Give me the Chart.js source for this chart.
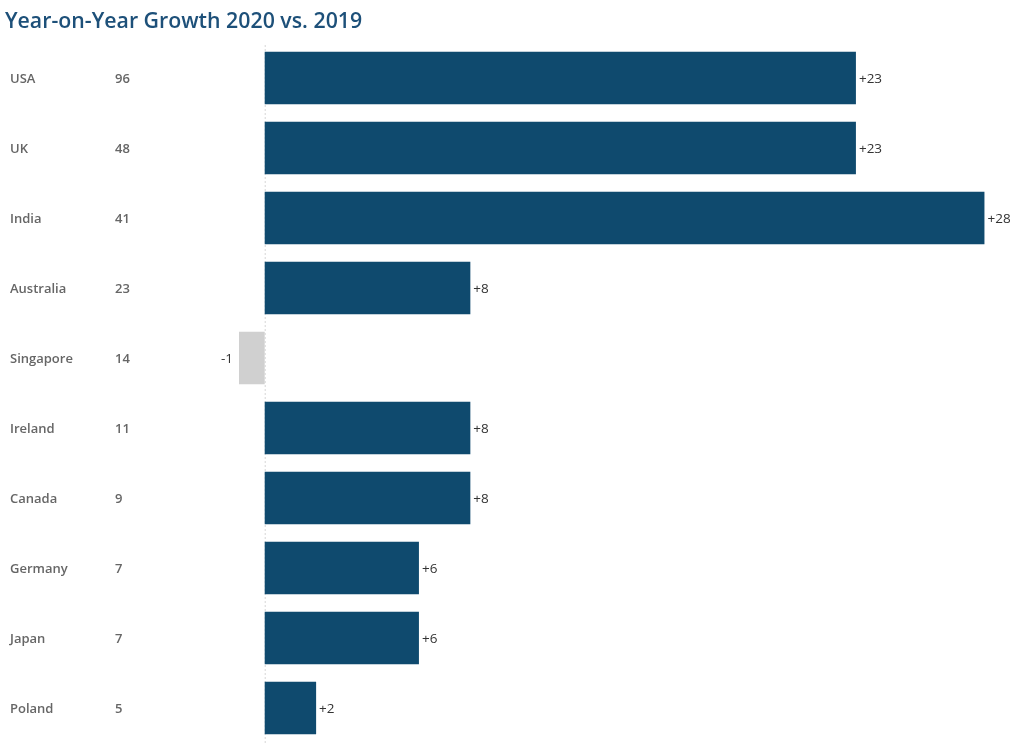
<!DOCTYPE html>
<html>
<head>
<meta charset="utf-8">
<script src="https://cdn.jsdelivr.net/npm/chart.js@4.4.0/dist/chart.umd.min.js"></script>
<style>
    body { margin: 0; background: #fff; }
    #wrap { position: relative; width: 1023px; height: 744px; }
    #title {
        position: absolute; left: 5px; top: 5px;
        font-family: 'Open Sans', sans-serif; font-weight: 600; font-size: 21.3px;
        color: #1d5079; margin: 0;
    }
    #chart { position: absolute; left: 0; top: 0; }
</style>
</head>
<body>
<div id="wrap">
    <canvas id="chart" width="1023" height="744"></canvas>
    <h1 id="title">Year-on-Year Growth 2020 vs. 2019</h1>
</div>
<script>
const countries = ['USA', 'UK', 'India', 'Australia', 'Singapore', 'Ireland', 'Canada', 'Germany', 'Japan', 'Poland'];
const counts2020 = [96, 48, 41, 23, 14, 11, 9, 7, 7, 5];
const growth = [23, 23, 28, 8, -1, 8, 8, 6, 6, 2];

const barBlue = '#0f4a6e';
const barGrey = '#d0d0d0';

const sidePlugin = {
    id: 'side',
    beforeDatasetsDraw(chart) {
        const ctx = chart.ctx;
        const x0 = chart.scales.x.getPixelForValue(0);
        ctx.save();
        ctx.strokeStyle = '#d6d6d6';
        ctx.lineWidth = 1;
        ctx.setLineDash([2, 2]);
        ctx.beginPath();
        ctx.moveTo(x0 + 0.5, 45);
        ctx.lineTo(x0 + 0.5, 744);
        ctx.stroke();
        ctx.restore();
    },
    afterDatasetsDraw(chart) {
        const ctx = chart.ctx;
        const y = chart.scales.y;
        ctx.save();
        ctx.textBaseline = 'middle';
        ctx.font = '600 13px "Open Sans", sans-serif';
        ctx.fillStyle = '#666';
        countries.forEach((c, i) => {
            const py = y.getPixelForValue(i) + 1;
            ctx.textAlign = 'left';
            ctx.fillText(c, 10, py);
            ctx.fillText(String(counts2020[i]), 115, py);
        });
        ctx.font = '13.5px "Open Sans", sans-serif';
        ctx.fillStyle = '#333';
        chart.getDatasetMeta(0).data.forEach((bar, i) => {
            const v = growth[i];
            if (v >= 0) {
                ctx.textAlign = 'left';
                ctx.fillText('+' + v, bar.x + 3, bar.y + 1);
            } else {
                ctx.textAlign = 'right';
                ctx.fillText(String(v), bar.x - 6, bar.y + 1);
            }
        });
        ctx.restore();
    }
};

new Chart(document.getElementById('chart'), {
    type: 'bar',
    data: {
        labels: countries,
        datasets: [{
            data: growth,
            backgroundColor: growth.map(v => v < 0 ? barGrey : barBlue),
            categoryPercentage: 1,
            barPercentage: 0.75
        }]
    },
    options: {
        indexAxis: 'y',
        responsive: false,
        animation: false,
        layout: { padding: { left: 239, top: 43, right: 0, bottom: 1 } },
        scales: {
            x: { display: false, min: -1, max: 29.5 },
            y: { display: false }
        },
        plugins: {
            legend: { display: false },
            tooltip: { enabled: false }
        }
    },
    plugins: [sidePlugin]
});
</script>
</body>
</html>
